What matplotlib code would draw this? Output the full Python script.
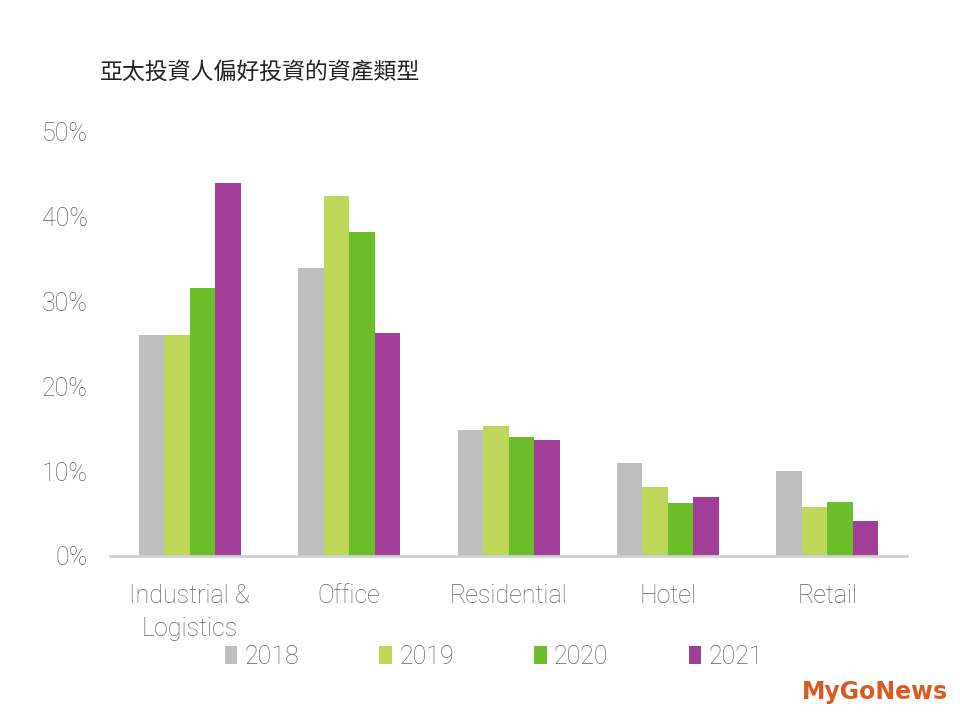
import numpy as np
import matplotlib.pyplot as plt
from matplotlib.ticker import FuncFormatter
from matplotlib.font_manager import FontProperties

categories = ['Industrial &\nLogistics', 'Office', 'Residential', 'Hotel', 'Retail']
years = ['2018', '2019', '2020', '2021']
v2018 = [26.0, 34.0, 14.9, 11.0, 10.0]
v2019 = [26.0, 42.5, 15.3, 8.1, 5.8]
v2020 = [31.6, 38.2, 14.0, 6.2, 6.4]
v2021 = [44.0, 26.3, 13.7, 7.0, 4.1]
colors = ['#BEBEBE', '#BFD758', '#6BBD2A', '#A33E98']

txt_color = '#626262'
lab_fp = FontProperties(family='Roboto', weight='light', size=18)

fig = plt.figure(figsize=(9.6, 7.2), dpi=100)
ax = fig.add_axes([0.1146, 0.2278, 0.8302, 0.5889])

x = np.arange(len(categories))
w = 0.16
for i, (vals, c, yr) in enumerate(zip([v2018, v2019, v2020, v2021], colors, years)):
    ax.bar(x + (i - 1.5) * w, vals, width=w, color=c, label=yr, zorder=2)

ax.set_xlim(-0.5, 4.5)
ax.set_ylim(0, 50)
ax.set_yticks([0, 10, 20, 30, 40, 50])
ax.yaxis.set_major_formatter(FuncFormatter(lambda v, p: f'{int(v)}%'))
ax.set_xticks(x)
ax.set_xticklabels(categories, linespacing=1.5)
for s in ['top', 'right', 'left']:
    ax.spines[s].set_visible(False)
ax.spines['bottom'].set_color('#D0D0D0')
ax.spines['bottom'].set_linewidth(2)
ax.tick_params(length=0)
ax.tick_params(axis='y', pad=16)
ax.tick_params(axis='x', pad=20)
for lab in ax.get_yticklabels() + ax.get_xticklabels():
    lab.set_fontproperties(lab_fp)
    lab.set_color(txt_color)

fig.text(0.104, 0.899, '亞太投資人偏好投資的資產類型', fontsize=16.5,
         family=['Noto Sans CJK TC', 'DejaVu Sans'], color='#222222', va='center')

leg = fig.legend(loc='center left', bbox_to_anchor=(0.234, 0.088), ncol=4, frameon=False,
                 handlelength=0.5, handleheight=0.7, handletextpad=0.3, columnspacing=3.2,
                 borderaxespad=0, borderpad=0, prop=lab_fp)
for t in leg.get_texts():
    t.set_color(txt_color)

fig.text(0.988, 0.039, 'MyGoNews', fontsize=17, fontweight='bold', color='#DC5A22',
         ha='right', va='center', family='DejaVu Sans')

fig.savefig('out.png', dpi=100)
